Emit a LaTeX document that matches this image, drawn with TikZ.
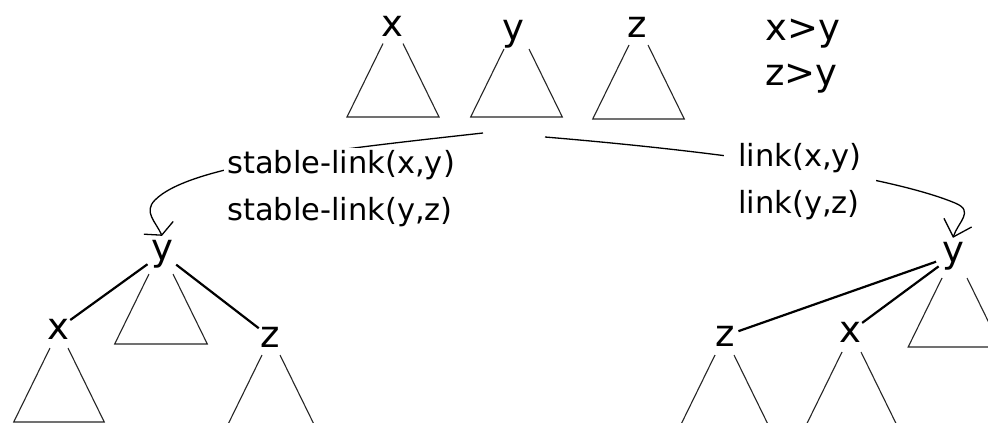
\documentclass[tikz,border=0pt]{standalone}
\usepackage{fontspec}
\setmainfont{DejaVu Sans}
\usetikzlibrary{arrows.meta}

% open triangle hanging under a key: centre x, top y, half gap at top, height
\newcommand\subtri[4]{%
  \draw[subtreeline] ({#1-#3},#2) -- ({#1-#3-0.49*#4},{#2+#4})
    -- ({#1+#3+0.49*#4},{#2+#4}) -- ({#1+#3},#2);}

\tikzset{
  key/.style={circle, inner sep=0pt, font=\fontsize{37}{44}\selectfont},
  subtreeline/.style={line width=1.1pt, draw=black!85},
  treeedge/.style={line width=2.2pt},
  linkpath/.style={line width=1.3pt},
  linklabel/.style={fill=white, align=left, inner ysep=2pt,
    font=\fontsize{30.5}{47}\selectfont},
}

\begin{document}
\begin{tikzpicture}[x=1pt, y=-1pt]
  \fill[white] (0,0) rectangle (988,423);
  \clip (0,0) rectangle (988,423);

  % three heaps before linking
  \node[key, anchor=base] (tx) at (392,36) {x};
  \node[key, anchor=base] (ty) at (513,40) {y};
  \node[key, anchor=base] (tz) at (637,37) {z};
  \subtri{393}{43.5}{10}{73.5}
  \subtri{516.5}{49}{12.5}{68}
  \subtri{638.5}{45}{9.5}{74}

  % the base anchor of a two-line node sits on its second line
  \node[anchor=base west, align=left, inner sep=0pt,
        font=\fontsize{37}{45}\selectfont] (order) at (765,85) {x>y\\z>y};

  % result of the stable links
  \node[key, anchor=base] (ly) at (162,260) {y};
  \node[key, anchor=base] (lx) at (58,339) {x};
  \node[key, anchor=base] (lz) at (270,347) {z};
  \subtri{161}{274}{12}{70}
  \subtri{59}{348}{9}{74}
  \subtri{271}{355}{9}{80}
  \draw[treeedge] (ly) -- (lx);
  \draw[treeedge] (ly) -- (lz);

  % result of the plain links
  \node[key, anchor=base] (ry) at (953,262) {y};
  \node[key, anchor=base] (rz) at (725,346) {z};
  \node[key, anchor=base] (rx) at (850,342) {x};
  \subtri{954.5}{278}{12.5}{69}
  \subtri{724.5}{355}{9.5}{80}
  \subtri{851.5}{352}{9.5}{80}
  \draw[treeedge] (ry) -- (rz);
  \draw[treeedge] (ry) -- (rx);

  % the two ways of linking
  \coordinate (ls) at (483,133);
  \coordinate (rs) at (545,137);
  \draw[linkpath, -{Straight Barb[length=8pt,width=32pt]}]
    (ls) .. controls (330,150) and (190,165) .. (155,200)
         .. controls (143,212) and (156,222) .. (ly.north);
  \draw[linkpath, -{Straight Barb[length=15pt,width=29pt]}]
    (rs) .. controls (760,155) and (900,180) .. (955,203)
         .. controls (975,211) and (958,222) .. (ry.north);

  \node[linklabel, anchor=base west, inner xsep=3pt] (sl) at (224,220)
    {stable-link(x,y)\\stable-link(y,z)};
  \node[linklabel, anchor=base west, inner xsep=14pt] (pl) at (724,213)
    {link(x,y)\\link(y,z)};
\end{tikzpicture}
\end{document}
